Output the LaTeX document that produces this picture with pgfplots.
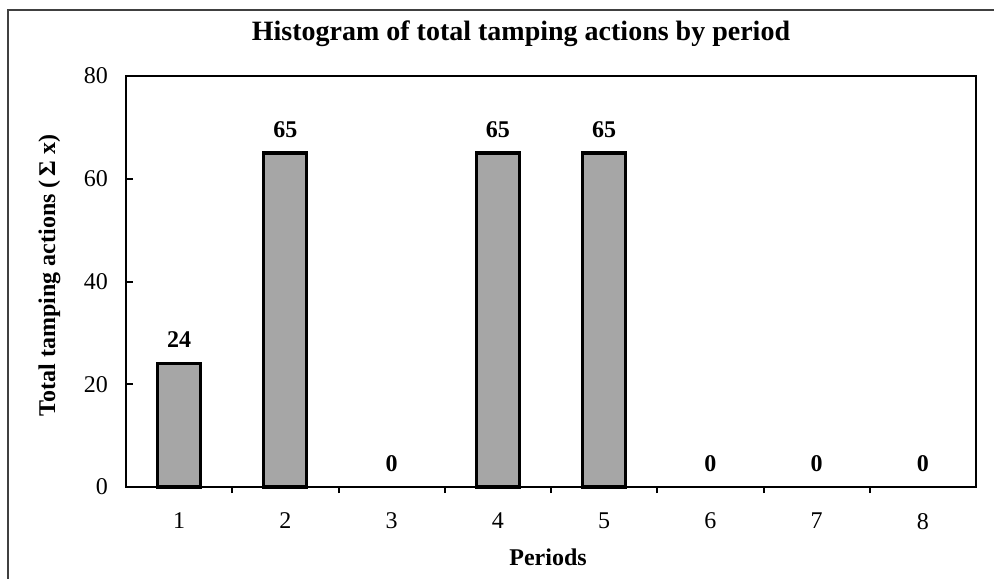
\documentclass[border=0pt]{standalone}
\usepackage{fontspec}
\setmainfont{Liberation Serif}
\usepackage{pgfplots}
\pgfplotsset{compat=1.18}
\definecolor{barfill}{HTML}{A6A6A6}
\begin{document}
\begin{tikzpicture}
\begin{axis}[
  scale only axis,
  width=425pt, height=205.5pt,
  at={(63pt,45.5pt)}, anchor=south west,
  xmin=0.5, xmax=8.5, ymin=0, ymax=80,
  xtick={1,2,3,4,5,6,7,8},
  minor xtick={1.5,2.5,3.5,4.5,5.5,6.5,7.5},
  major x tick style={draw=none},
  minor tick length=3pt,
  major tick length=3.5pt,
  tick align=inside,
  ytick={0,20,40,60,80},
  xtick pos=bottom, ytick pos=left,
  axis line style={line width=1.2pt},
  every tick/.style={black, line width=1pt},
  /pgf/number format/assume math mode=true,
  tick label style={font=\fontsize{12}{14}\selectfont},
  xticklabel style={yshift=-6pt},
  yticklabel style={xshift=-5.5pt},
  title={Histogram of total tamping actions by period},
  title style={font=\fontsize{14}{16}\bfseries, at={(axis description cs:0.4647,1.058)}, anchor=base},
  xlabel={Periods},
  xlabel style={font=\fontsize{12}{14}\bfseries, at={(axis description cs:0.4965,-0.1898)}, anchor=base},
  ylabel={Total tamping actions (\,Σ x)},
  ylabel style={font=\fontsize{12}{14}\bfseries, at={(axis description cs:-0.0835,0.515)}, anchor=base, rotate=0},
  ybar, bar width=21.5pt, bar shift=0pt,
  nodes near coords,
  nodes near coords style={font=\fontsize{12}{14}\bfseries, anchor=base, yshift=8pt},
  clip=false,
]
\addplot[fill=barfill, draw=black, line width=1.6pt] coordinates {
  (1,24) (2,65) (4,65) (5,65)
};
\addplot[fill=none, draw=none] coordinates {
  (3,0) (6,0) (7,0) (8,0)
};
\end{axis}
\draw[black!75, line width=0.6pt] (4pt,-5pt) -- (4pt,284pt) -- (505pt,284pt);
\pgfresetboundingbox
\useasboundingbox (0,0) rectangle (497pt,289pt);
\end{tikzpicture}
\end{document}
